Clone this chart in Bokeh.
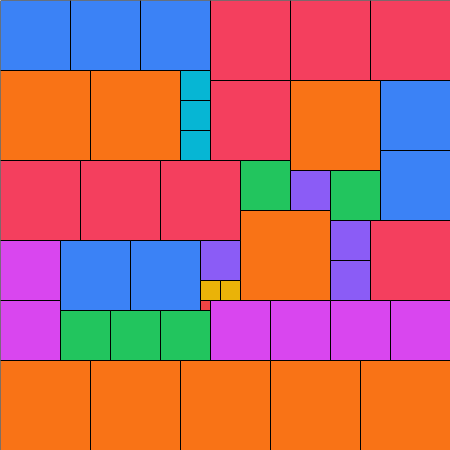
from bokeh.plotting import figure
from bokeh.models import Range1d, ColumnDataSource
from bokeh.embed import file_html
from bokeh.resources import INLINE

# Treemap cells on a 45 x 45 grid (left, top, width, height), grid units
group = ["blue", "blue", "blue", "red", "red", "red",
         "orange", "orange", "cyan", "cyan", "cyan",
         "red", "orange", "blue", "blue",
         "red", "red", "red", "green", "purple", "green",
         "orange", "purple", "purple", "red",
         "magenta", "blue", "blue", "purple", "yellow", "yellow", "red2",
         "magenta", "green", "green", "green",
         "magenta", "magenta", "magenta", "magenta",
         "orange", "orange", "orange", "orange", "orange"]
left = [0, 7, 14, 21, 29, 37,
        0, 9, 18, 18, 18,
        21, 29, 38, 38,
        0, 8, 16, 24, 29, 33,
        24, 33, 33, 37,
        0, 6, 13, 20, 20, 22, 20,
        0, 6, 11, 16,
        21, 27, 33, 39,
        0, 9, 18, 27, 36]
top = [0, 0, 0, 0, 0, 0,
       7, 7, 7, 10, 13,
       8, 8, 8, 15,
       16, 16, 16, 16, 17, 17,
       21, 22, 26, 22,
       24, 24, 24, 24, 28, 28, 30,
       30, 31, 31, 31,
       30, 30, 30, 30,
       36, 36, 36, 36, 36]
width = [7, 7, 7, 8, 8, 8,
         9, 9, 3, 3, 3,
         8, 9, 7, 7,
         8, 8, 8, 5, 4, 5,
         9, 4, 4, 8,
         6, 7, 7, 4, 2, 2, 1,
         6, 5, 5, 5,
         6, 6, 6, 6,
         9, 9, 9, 9, 9]
height = [7, 7, 7, 8, 8, 8,
          9, 9, 3, 3, 3,
          8, 9, 7, 7,
          8, 8, 8, 5, 4, 5,
          9, 4, 4, 8,
          6, 7, 7, 4, 2, 2, 1,
          6, 5, 5, 5,
          6, 6, 6, 6,
          9, 9, 9, 9, 9]

palette = {"blue": "#3B82F6", "red": "#F43F5E", "orange": "#F97316",
           "cyan": "#06B6D4", "green": "#22C55E", "purple": "#8B5CF6",
           "magenta": "#D946EF", "yellow": "#EAB308", "red2": "#EF4444"}

src = ColumnDataSource(dict(
    left=left,
    right=[l + w for l, w in zip(left, width)],
    top=top,
    bottom=[t + h for t, h in zip(top, height)],
    color=[palette[g] for g in group],
))

p = figure(width=450, height=450, output_backend="svg", toolbar_location=None,
           x_range=Range1d(0, 45), y_range=Range1d(45, 0),
           min_border=0, outline_line_color=None)
p.axis.visible = False
p.grid.visible = False
p.quad(left="left", right="right", top="top", bottom="bottom", source=src,
       fill_color="color", line_color="black", line_width=1)

open("out.html", "w").write(file_html(p, INLINE))
